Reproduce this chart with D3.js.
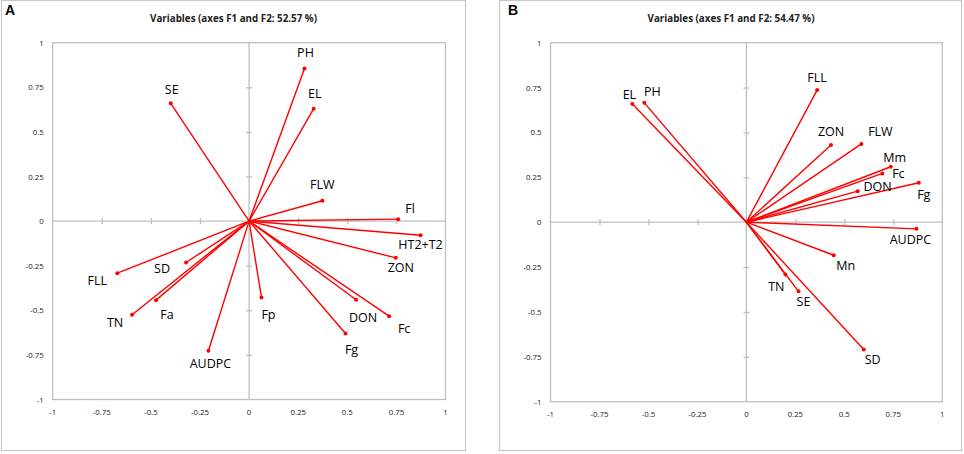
<!DOCTYPE html>
<html>
<head>
<meta charset="utf-8">
<script src="https://cdn.jsdelivr.net/npm/d3@7"></script>
<style>
  body { margin: 0; background: #fff; }
  svg { display: block; }
</style>
</head>
<body>
<svg id="chart" width="964" height="454"></svg>
<script>
// Panel A : PCA variable loadings (F1, F2)
const varsA = ['PH', 'EL', 'SE', 'FLW', 'Fl', 'HT2+T2', 'ZON', 'FLL', 'SD', 'Fa', 'TN', 'AUDPC', 'Fp', 'DON', 'Fc', 'Fg'];
const f1A = [0.282, 0.329, -0.399, 0.373, 0.759, 0.873, 0.747, -0.671, -0.321, -0.474, -0.596, -0.207, 0.063, 0.545, 0.713, 0.491];
const f2A = [0.856, 0.630, 0.660, 0.114, 0.011, -0.079, -0.206, -0.292, -0.232, -0.443, -0.525, -0.727, -0.428, -0.441, -0.533, -0.630];
const titleA = 'Variables (axes F1 and F2: 52.57 %)';

// Panel B
const varsB = ['EL', 'PH', 'FLL', 'ZON', 'FLW', 'Mm', 'Fc', 'DON', 'Fg', 'AUDPC', 'Mn', 'TN', 'SE', 'SD'];
const f1B = [-0.582, -0.521, 0.361, 0.432, 0.587, 0.737, 0.694, 0.568, 0.880, 0.868, 0.446, 0.199, 0.266, 0.599];
const f2B = [0.658, 0.665, 0.736, 0.430, 0.436, 0.309, 0.272, 0.173, 0.220, -0.037, -0.184, -0.292, -0.385, -0.709];
const titleB = 'Variables (axes F1 and F2: 54.47 %)';

// shared axis ticks
const tickValues = [-1, -0.75, -0.5, -0.25, 0, 0.25, 0.5, 0.75, 1];

// label nudges (px, label centre relative to arrow tip) - layout only
const nudgeA = {
  'PH': [1, -16], 'EL': [1, -15], 'SE': [1, -14], 'FLW': [0, -16], 'Fl': [12, -11],
  'HT2+T2': [0, 9], 'ZON': [5, 10], 'FLL': [-20, 7], 'SD': [-24, 6], 'Fa': [11, 14],
  'TN': [-17, 8], 'AUDPC': [2, 13], 'Fp': [7, 17], 'DON': [7, 18], 'Fc': [15, 12], 'Fg': [6, 16]
};
const nudgeB = {
  'EL': [-3, -10], 'PH': [8, -11], 'FLL': [0, -13], 'ZON': [0, -14], 'FLW': [19, -12],
  'Mm': [4, -9], 'Fc': [16, 0], 'DON': [20, -5], 'Fg': [5, 12], 'AUDPC': [-6, 11],
  'Mn': [12, 10], 'TN': [-9, 12], 'SE': [5, 10], 'SD': [9, 10]
};

const svg = d3.select('#chart');
const LINE_RED = '#ff0000';
const GRID_GREY = '#bfbfbf';

// Function to draw one biplot panel
const drawPanel = (opt) => {
  const g = svg.append('g');

  // outer frame
  g.append('rect')
    .attr('x', opt.frame[0] + 0.5).attr('y', opt.frame[1] + 0.5)
    .attr('width', opt.frame[2]).attr('height', opt.frame[3])
    .attr('fill', 'none').attr('stroke', '#c8c8c8').attr('stroke-width', 1.2);

  g.append('text')
    .attr('x', opt.letterX).attr('y', 15)
    .attr('font-family', 'Liberation Sans, Arial, sans-serif')
    .attr('font-weight', 'bold').attr('font-size', 14)
    .text(opt.letter);

  g.append('text')
    .attr('x', opt.titleX).attr('y', 18)
    .attr('text-anchor', 'middle').attr('dominant-baseline', 'central')
    .attr('font-family', 'Open Sans, sans-serif')
    .attr('font-weight', 'bold').attr('font-size', 9.8)
    .attr('fill', '#222')
    .text(opt.title);

  const x = d3.scaleLinear().domain([-1, 1]).range([opt.plot[0], opt.plot[1]]);
  const y = d3.scaleLinear().domain([-1, 1]).range([opt.plot[3], opt.plot[2]]);

  // plot area box
  g.append('rect')
    .attr('x', x(-1)).attr('y', y(1))
    .attr('width', x(1) - x(-1)).attr('height', y(-1) - y(1))
    .attr('fill', 'none').attr('stroke', GRID_GREY).attr('stroke-width', 1.3);

  // zero axes with crossing ticks
  const xAxis = d3.axisBottom(x).tickValues(tickValues.filter((t) => t > -1 && t < 1 && t !== 0))
    .tickSize(6).tickFormat('');
  g.append('g').attr('transform', `translate(0,${y(0) - 3})`).call(xAxis)
    .call((a) => a.select('.domain').remove());
  g.append('line')
    .attr('x1', x(-1)).attr('x2', x(1)).attr('y1', y(0)).attr('y2', y(0));

  const yAxis = d3.axisRight(y).tickValues(tickValues.filter((t) => t > -1 && t < 1 && t !== 0))
    .tickSize(6).tickFormat('');
  g.append('g').attr('transform', `translate(${x(0) - 3},0)`).call(yAxis)
    .call((a) => a.select('.domain').remove());
  g.append('line')
    .attr('x1', x(0)).attr('x2', x(0)).attr('y1', y(1)).attr('y2', y(-1));

  g.selectAll('line').attr('stroke', GRID_GREY).attr('stroke-width', 1.3);

  // tick labels
  g.selectAll('.xt').data(tickValues).enter().append('text')
    .attr('x', (d) => x(d)).attr('y', y(-1) + 12)
    .attr('text-anchor', 'middle').attr('dominant-baseline', 'central')
    .attr('font-family', 'Open Sans, sans-serif').attr('font-size', 7.8).attr('fill', '#222')
    .text((d) => d);
  g.selectAll('.yt').data(tickValues).enter().append('text')
    .attr('x', x(-1) - 9).attr('y', (d) => y(d))
    .attr('text-anchor', 'end').attr('dominant-baseline', 'central')
    .attr('font-family', 'Open Sans, sans-serif').attr('font-size', 7.8).attr('fill', '#222')
    .text((d) => d);

  const rows = opt.vars.map((name, i) => ({ name, f1: opt.f1[i], f2: opt.f2[i] }));

  g.selectAll('.vec').data(rows).enter().append('line')
    .attr('x1', x(0)).attr('y1', y(0))
    .attr('x2', (d) => x(d.f1)).attr('y2', (d) => y(d.f2))
    .attr('stroke', LINE_RED).attr('stroke-width', 1.4);

  g.selectAll('.tip').data(rows).enter().append('circle')
    .attr('cx', (d) => x(d.f1)).attr('cy', (d) => y(d.f2)).attr('r', 2)
    .attr('fill', LINE_RED);

  g.selectAll('.lab').data(rows).enter().append('text')
    .attr('x', (d) => x(d.f1) + opt.nudge[d.name][0])
    .attr('y', (d) => y(d.f2) + opt.nudge[d.name][1])
    .attr('text-anchor', 'middle').attr('dominant-baseline', 'central')
    .attr('font-family', 'Open Sans, sans-serif').attr('font-size', 12.5).attr('fill', '#000')
    .text((d) => d.name);
};

drawPanel({
  frame: [1, 0, 464, 450], letter: 'A', letterX: 5, titleX: 233.5, title: titleA,
  plot: [52.7, 445.5, 42.7, 399.5], vars: varsA, f1: f1A, f2: f2A, nudge: nudgeA
});
drawPanel({
  frame: [499, 0, 462, 450], letter: 'B', letterX: 508, titleX: 731, title: titleB,
  plot: [550.5, 942.3, 42.7, 401.7], vars: varsB, f1: f1B, f2: f2B, nudge: nudgeB
});
</script>
</body>
</html>
